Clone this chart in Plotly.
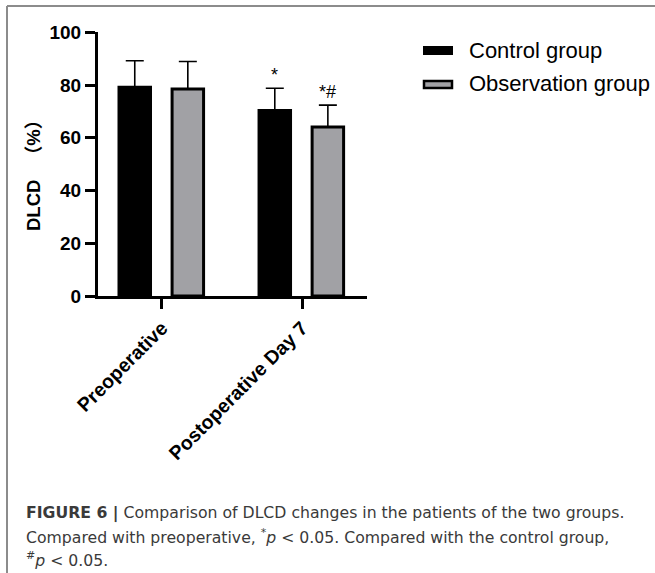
import plotly.graph_objects as go

categories = ["Preoperative", "Postoperative Day 7"]
series_names = ["Control group", "Observation group"]
control_mean = [79.2, 70.3]
control_sd = [10.0, 8.5]
obs_mean = [78.5, 64.1]
obs_sd = [10.4, 8.3]
sig_labels_control = ["", "*"]
sig_labels_obs = ["", "*#"]
y_ticks = [0, 20, 40, 60, 80, 100]

W, H = 655, 573
BLACK = "#000000"
GRAY = "#a1a1a5"
BAR_W = 0.225
OFF_C = -0.307
OFF_O = 0.072

fig = go.Figure()
fig.add_trace(go.Bar(
    name=series_names[0], x=categories, y=control_mean,
    width=BAR_W, offset=OFF_C,
    marker=dict(color=BLACK, line=dict(color=BLACK, width=3)),
    error_y=dict(type="data", symmetric=False, array=control_sd,
                 arrayminus=[0] * len(control_sd), color=BLACK, thickness=1.6, width=9),
))
fig.add_trace(go.Bar(
    name=series_names[1], x=categories, y=obs_mean,
    width=BAR_W, offset=OFF_O,
    marker=dict(color=GRAY, line=dict(color=BLACK, width=3)),
    error_y=dict(type="data", symmetric=False, array=obs_sd,
                 arrayminus=[0] * len(obs_sd), color=BLACK, thickness=1.6, width=9),
))

annotations = []
# significance marks
for i, lab in enumerate(sig_labels_control):
    if lab:
        annotations.append(dict(x=i + OFF_C + BAR_W / 2, y=control_mean[i] + control_sd[i],
                                xref="x", yref="y", text=lab, showarrow=False,
                                yanchor="bottom", yshift=1,
                                font=dict(family="Liberation Sans, Arial", size=18, color=BLACK)))
for i, lab in enumerate(sig_labels_obs):
    if lab:
        annotations.append(dict(x=i + OFF_O + BAR_W / 2, y=obs_mean[i] + obs_sd[i],
                                xref="x", yref="y", text=lab, showarrow=False,
                                yanchor="bottom", yshift=1,
                                font=dict(family="Liberation Sans, Arial", size=18, color=BLACK)))

# y-axis title
annotations.append(dict(x=33 / W, y=1 - 171 / H, xref="paper", yref="paper",
                        text="<b>DLCD\u00a0\u00a0\u00a0（%）</b>", textangle=-90, showarrow=False,
                        xanchor="center", yanchor="middle",
                        font=dict(family="Liberation Sans, Noto Sans CJK SC", size=18.5, color=BLACK)))

# legend text
annotations.append(dict(x=467 / W, y=1 - 50 / H, xref="paper", yref="paper",
                        text=series_names[0], showarrow=False, xanchor="left", yanchor="middle",
                        font=dict(family="Liberation Sans, Arial", size=22, color=BLACK)))
annotations.append(dict(x=467 / W, y=1 - 84 / H, xref="paper", yref="paper",
                        text=series_names[1], showarrow=False, xanchor="left", yanchor="middle",
                        font=dict(family="Liberation Sans, Arial", size=22, color=BLACK)))

# caption
cap_font = dict(family="DejaVu Sans", size=15.7, color="#3a3a3a")
caption_lines = [
    "<b>FIGURE 6 |</b> Comparison of DLCD changes in the patients of the two groups.",
    "Compared with preoperative, <sup>*</sup><i>p</i> < 0.05. Compared with the control group,",
    "<sup>#</sup><i>p</i> < 0.05.",
]
for k, (line, yc) in enumerate(zip(caption_lines, [513, 536, 559])):
    annotations.append(dict(x=24 / W, y=1 - yc / H, xref="paper", yref="paper",
                            text=line, showarrow=False, xanchor="left", yanchor="middle",
                            align="left", font=cap_font))

shapes = [
    # frame
    dict(type="line", xref="paper", yref="paper", x0=7 / W, x1=1.0, y0=1 - 6 / H, y1=1 - 6 / H,
         line=dict(color="#8c8c8c", width=2)),
    dict(type="line", xref="paper", yref="paper", x0=7 / W, x1=7 / W, y0=1 - 6 / H, y1=0,
         line=dict(color="#8c8c8c", width=2)),
    # legend swatches
    dict(type="rect", xref="paper", yref="paper", x0=424 / W, x1=452 / W,
         y0=1 - 54 / H, y1=1 - 47 / H, fillcolor=BLACK, line=dict(color=BLACK, width=2)),
    dict(type="rect", xref="paper", yref="paper", x0=424 / W, x1=452 / W,
         y0=1 - 88 / H, y1=1 - 81 / H, fillcolor=GRAY, line=dict(color=BLACK, width=2.5)),
]

fig.update_layout(
    width=W, height=H,
    margin=dict(l=0, r=0, t=0, b=0, autoexpand=False),
    paper_bgcolor="white", plot_bgcolor="white",
    showlegend=False,
    annotations=annotations, shapes=shapes,
    xaxis=dict(domain=[98 / W, 367 / W], type="category", range=[-0.457, 1.464],
               automargin=False,
               showline=True, linewidth=3, linecolor=BLACK, ticks="outside",
               ticklen=10, tickwidth=2.5, tickcolor=BLACK, tickangle=-45,
               showgrid=False, zeroline=False,
               tickfont=dict(family="Liberation Sans, Arial", size=19.5, color=BLACK, weight="bold")),
    yaxis=dict(domain=[1 - 296 / H, 1 - 32.3 / H], range=[0, 100], automargin=False,
               tickvals=y_ticks, showline=True, linewidth=3, linecolor=BLACK,
               ticks="outside", ticklen=10, tickwidth=2.5, tickcolor=BLACK,
               showgrid=False, zeroline=False,
               tickfont=dict(family="Liberation Sans, Arial", size=19, color=BLACK, weight="bold")),
)

fig.write_html("out.html", config={"displayModeBar": False},
               post_script="document.body.style.margin='0px';document.body.style.overflow='hidden';")
